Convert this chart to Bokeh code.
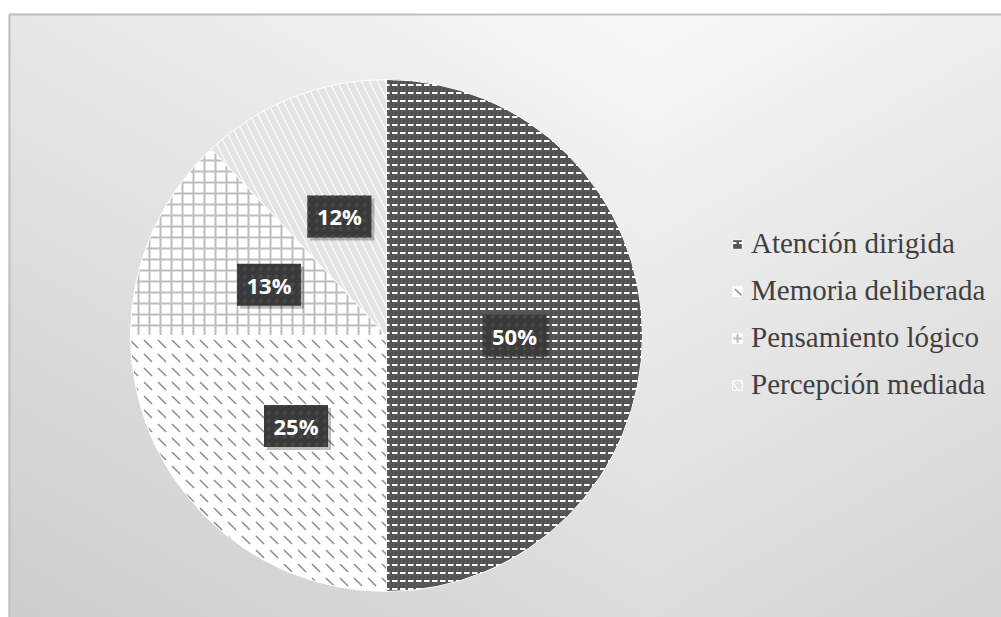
import numpy as np
from bokeh.plotting import figure
from bokeh.models import ColumnDataSource, Legend, LegendItem, Range1d
from bokeh.core.properties import value
from bokeh.embed import file_html
from bokeh.resources import INLINE

# ---- data ----
categories = ["Atención dirigida", "Memoria deliberada", "Pensamiento lógico", "Percepción mediada"]
percentages = [50, 25, 13, 12]

# ---- styles (one per category) ----
styles = [
    dict(fill_color="#555555", hatch_pattern="horizontal_dash", hatch_color="white", hatch_scale=8, hatch_weight=2),
    dict(fill_color="white", hatch_pattern="left_diagonal_dash", hatch_color="#8c8c8c", hatch_scale=14, hatch_weight=1.5),
    dict(fill_color="white", hatch_pattern="cross", hatch_color="#bdbdbd", hatch_scale=11, hatch_weight=2),
    dict(fill_color="white", hatch_pattern="left_diagonal_line", hatch_color="#e3e3e3", hatch_scale=16, hatch_weight=6),
]

W, H = 1001, 617
p = figure(width=W, height=H, x_range=Range1d(0, W), y_range=Range1d(0, H),
           output_backend="svg", toolbar_location=None, min_border=0)
p.axis.visible = False
p.grid.visible = False
p.outline_line_color = None
p.background_fill_color = "white"
p.border_fill_color = "white"

# ---- gradient chart-area background ----
left, top = 8, H - 13
nx, ny = 497, 302
xs = np.linspace(left, W, nx)
ys = np.linspace(0, top, ny)
X, Y = np.meshgrid(xs, ys)
depth = top - Y
v = 248 - 0.045 * depth - 0.025 * np.abs(X - 650)
v = np.clip(v, 0, 255).astype(np.uint8)
img = np.empty((ny, nx), dtype=np.uint32)
view = img.view(dtype=np.uint8).reshape((ny, nx, 4))
view[..., 0] = v
view[..., 1] = v
view[..., 2] = v
view[..., 3] = 255
p.image_rgba(image=[img], x=left, y=-10, dw=W - left, dh=top + 10)
p.quad(left=left + 1, right=W + 10, bottom=-10, top=top - 1, fill_alpha=0,
       line_color="#bfbfbf", line_width=2)

# ---- pie ----
cx, cy, R = 386, H - 335, 256
fracs = np.array(percentages, dtype=float) / sum(percentages)
cum = np.concatenate([[0.0], np.cumsum(fracs)])
start = np.pi / 2 - 2 * np.pi * cum[:-1]
end = np.pi / 2 - 2 * np.pi * cum[1:]

items = []
for i, cat in enumerate(categories):
    r = p.wedge(x=cx, y=cy, radius=R, start_angle=start[i], end_angle=end[i],
                direction="clock", line_color="white", line_width=1, **styles[i])
    items.append(LegendItem(label=cat, renderers=[r]))

# ---- data labels ----
mid = (start + end) / 2
lx = cx + 0.5 * R * np.cos(mid)
ly = cy + 0.5 * R * np.sin(mid)
lab = ColumnDataSource(dict(
    x=lx, y=ly, sx=lx + 3, sy=ly - 3,
    text=[f"{v}%" for v in percentages],
))
p.rect(x="sx", y="sy", width=64, height=42, width_units="screen", height_units="screen",
       fill_color="black", fill_alpha=0.25, line_color=None, source=lab)
p.rect(x="x", y="y", width=64, height=42, width_units="screen", height_units="screen",
       fill_color="#3a3a3a", line_color=None, hatch_pattern="dot", hatch_color="#4a4a4a",
       hatch_scale=8, source=lab)
p.text(x="x", y="y", text="text", source=lab, text_align="center", text_baseline="middle",
       text_font=value("Open Sans"), text_font_style="bold", text_font_size="22px",
       text_color="white")

# ---- legend ----
legend = Legend(items=items, location=(731, 216), glyph_width=12, glyph_height=12,
                label_text_font="'Liberation Serif', 'Times New Roman', serif",
                label_text_font_size="29px",
                label_text_color="#404040", spacing=14, padding=0, margin=0,
                border_line_alpha=0, background_fill_alpha=0, label_standoff=8)
p.add_layout(legend)

open("out.html", "w").write(file_html(p, INLINE))
